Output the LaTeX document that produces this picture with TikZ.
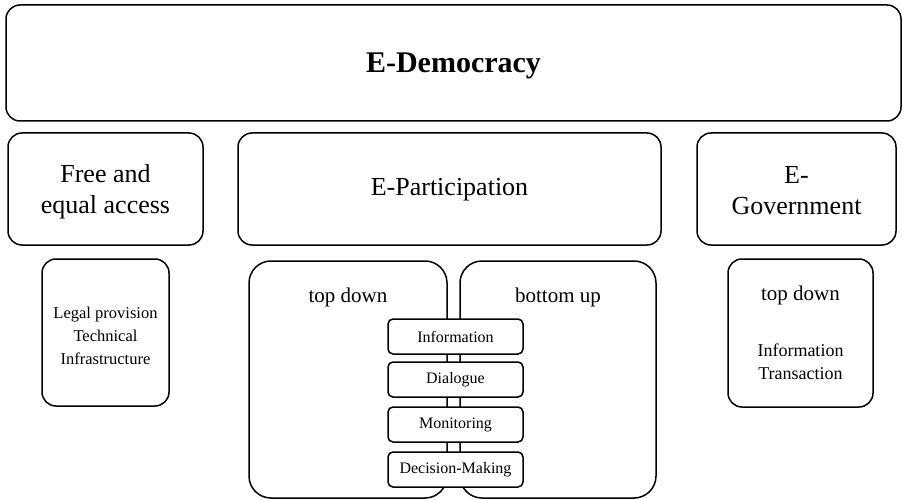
\documentclass[tikz,border=0pt]{standalone}
\usepackage{fontspec}
\setmainfont{Liberation Serif}
\begin{document}
\begin{tikzpicture}[x=1pt, y=-1pt,
    frame/.style={draw, line width=1.5pt, rounded corners=#1, fill=white, inner sep=0pt, align=center},
    frame/.default=14pt,
    stage/.style={frame=5pt, minimum width=135pt, minimum height=35pt, font=\fontsize{16}{19}\selectfont},
    big/.style={font=\fontsize{26}{31}\selectfont},
    mid/.style={font=\fontsize{21}{25}\selectfont},
    lbl/.style={inner sep=0pt, align=center}]
    \useasboundingbox                                                                                    (0, 0) rectangle (903, 500);
    \node[frame, minimum width=895pt, minimum height=116pt]                                         (edem)    at (453.5,  63.0) {};
    \node[lbl, font=\fontsize{30}{34}\selectfont\bfseries]                                         (edtext)  at (453.5,  66.0) {E-Democracy};
    \node[frame, minimum width=195pt, minimum height=112pt]                                         (access)  at (105.5, 189.0) {};
    \node[lbl, big]                                                                                 (actext)  at (105.5, 192.0) {Free and\\equal access};
    \node[frame, minimum width=423pt, minimum height=112pt]                                         (epart)   at (449.5, 189.0) {};
    \node[lbl, big]                                                                                 (eptext)  at (449.5, 190.0) {E-Participation};
    \node[frame, minimum width=199pt, minimum height=112pt]                                         (egov)    at (796.5, 189.0) {};
    \node[lbl, big]                                                                                 (egtext)  at (796.5, 191.0) {E-\\Government};
    \node[frame, minimum width=127pt, minimum height=147pt]                                         (legal)   at (105.5, 332.5) {};
    \node[lbl, font=\fontsize{16.5}{23}\selectfont]                                                 (lgtext)  at (105.5, 336.0) {Legal provision\\Technical\\Infrastructure};
    \node[frame, minimum width=145pt, minimum height=148pt]                                         (govdet)  at (800.5, 333.0) {};
    \node[lbl, mid]                                                                                 (govtd)   at (800.5, 295.0) {top down};
    \node[lbl, font=\fontsize{18}{23}\selectfont]                                                   (govinfo) at (800.5, 362.0) {Information\\Transaction};
    \node[frame=22pt, minimum width=198pt, minimum height=237pt]                                    (topdown) at (348.0, 379.5) {};
    \node[frame=22pt, minimum width=196pt, minimum height=237pt]                                    (botup)   at (558.0, 379.5) {};
    \node[lbl, mid]                                                                                 (tdtext)  at (348.0, 297.0) {top down};
    \node[lbl, mid]                                                                                 (butext)  at (558.0, 297.0) {bottom up};
    \node[stage]                                                                                    (info)    at (455.5, 336.5) {Information};
    \node[stage]                                                                                    (dialog)  at (455.5, 379.5) {Dialogue};
    \node[stage]                                                                                    (monitor) at (455.5, 424.5) {Monitoring};
    \node[stage]                                                                                    (decide)  at (455.5, 469.5) {Decision-Making};
\end{tikzpicture}
\end{document}
